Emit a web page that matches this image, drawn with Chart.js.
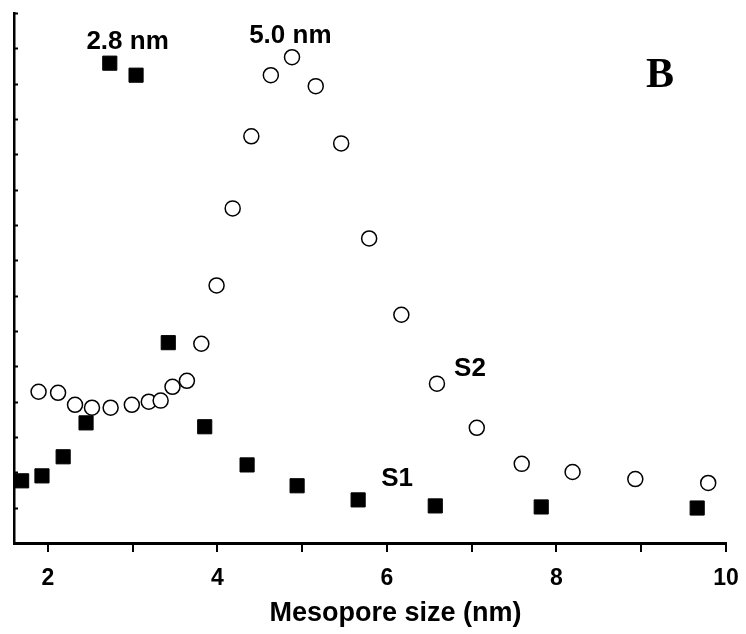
<!DOCTYPE html>
<html>
<head>
<meta charset="utf-8">
<script src="https://cdn.jsdelivr.net/npm/chart.js@4"></script>
<style>
  html, body { margin: 0; padding: 0; background: #fff; }
  #wrap { width: 746px; height: 634px; }
</style>
</head>
<body>
<div id="wrap"><canvas id="chart" width="746" height="634"></canvas></div>
<script>
// S1 (黒い四角) のデータ
const s1X = [1.69, 1.93, 2.18, 2.45, 2.73, 3.04, 3.42, 3.85, 4.35, 4.94, 5.66, 6.57, 7.82, 9.66];
const s1Y = [1.76, 1.90, 2.44, 3.40, 13.58, 13.24, 5.67, 3.29, 2.21, 1.62, 1.22, 1.05, 1.02, 0.99];
// S2 (白い丸) のデータ
const s2X = [1.89, 2.12, 2.32, 2.52, 2.74, 2.99, 3.19, 3.33, 3.47, 3.64, 3.81, 3.99, 4.18, 4.40,
             4.63, 4.88, 5.16, 5.46, 5.79, 6.17, 6.59, 7.06, 7.59, 8.19, 8.93, 9.79];
const s2Y = [4.28, 4.25, 3.91, 3.83, 3.83, 3.91, 4.00, 4.03, 4.42, 4.59, 5.64, 7.29, 9.47, 11.51,
             13.24, 13.75, 12.93, 11.31, 8.62, 6.46, 4.51, 3.26, 2.24, 2.01, 1.81, 1.70];
// x軸の目盛り (ラベル付きは偶数のみ)
const xLabelTicks = [2, 4, 6, 8, 10];
const xTitle = 'Mesopore size (nm)';
// 図中の注記
const notes = [
    { text: '2.8 nm', x: 2.94, y: 14.18, font: 'bold 26px "Liberation Sans", Arial, sans-serif' },
    { text: '5.0 nm', x: 4.86, y: 14.34, font: 'bold 26px "Liberation Sans", Arial, sans-serif' },
    { text: 'S2', x: 6.98, y: 4.93, font: 'bold 26px "Liberation Sans", Arial, sans-serif' },
    { text: 'S1', x: 6.12, y: 1.82, font: 'bold 26px "Liberation Sans", Arial, sans-serif' },
    { text: 'B', x: 9.22, y: 13.20, font: 'bold 42px "Liberation Serif", "Times New Roman", serif' }
];

const toPoints = (xs, ys) => xs.map((x, i) => ({ x: x, y: ys[i] }));

// y軸の内向き目盛りと注記を描くプラグイン
const extrasPlugin = {
    id: 'extras',
    afterDraw(chart) {
        const ctx = chart.ctx;
        const xs = chart.scales.x;
        const ys = chart.scales.y;
        ctx.save();
        ctx.strokeStyle = '#000';
        ctx.lineWidth = 2;
        ys.ticks.forEach(t => {
            const py = Math.round(ys.getPixelForValue(t.value)) + 0.5;
            ctx.beginPath();
            ctx.moveTo(xs.left, py);
            ctx.lineTo(xs.left + 4, py);
            ctx.stroke();
        });
        ctx.fillStyle = '#000';
        ctx.textAlign = 'center';
        ctx.textBaseline = 'middle';
        notes.forEach(n => {
            ctx.font = n.font;
            ctx.fillText(n.text, xs.getPixelForValue(n.x), ys.getPixelForValue(n.y));
        });
        // x軸タイトル
        ctx.font = 'bold 27px "Liberation Sans", Arial, sans-serif';
        ctx.fillText(xTitle, xs.getPixelForValue(6.1), xs.bottom - 20);
        ctx.restore();
    }
};

const config = {
    type: 'scatter',
    data: {
        datasets: [{
            label: 'S1',
            data: toPoints(s1X, s1Y),
            pointStyle: 'rect',
            pointRadius: 10,
            pointBackgroundColor: '#000',
            pointBorderColor: '#000',
            pointBorderWidth: 1,
            clip: false
        }, {
            label: 'S2',
            data: toPoints(s2X, s2Y),
            pointStyle: 'circle',
            pointRadius: 7.5,
            pointBackgroundColor: '#fff',
            pointBorderColor: '#000',
            pointBorderWidth: 1.5,
            clip: false
        }]
    },
    options: {
        responsive: false,
        animation: false,
        layout: { padding: { top: 13, right: 20, left: 0, bottom: 0 } },
        plugins: {
            legend: { display: false },
            tooltip: { enabled: false }
        },
        scales: {
            x: {
                type: 'linear',
                min: 1.6,
                max: 10,
                afterFit: s => { s.height = 91; s.paddingLeft = 0; s.paddingRight = 0; },
                border: { display: true, color: '#000', width: 3 },
                grid: { drawOnChartArea: false, color: '#000', lineWidth: 2, tickLength: 9 },
                ticks: {
                    stepSize: 1,
                    includeBounds: false,
                    autoSkip: false,
                    maxRotation: 0,
                    padding: 13,
                    color: '#000',
                    font: { family: '"Liberation Sans", Arial, sans-serif', size: 23, weight: 'bold' },
                    callback: v => xLabelTicks.includes(v) ? String(v) : ''
                }
            },
            y: {
                type: 'linear',
                min: 0,
                max: 15,
                afterFit: s => { s.width = 14; },
                border: { display: true, color: '#000', width: 2.5 },
                grid: { display: false },
                ticks: { display: false, stepSize: 1 }
            }
        }
    },
    plugins: [extrasPlugin]
};

const ctx = document.querySelector('#chart');
new Chart(ctx, config);
</script>
</body>
</html>
